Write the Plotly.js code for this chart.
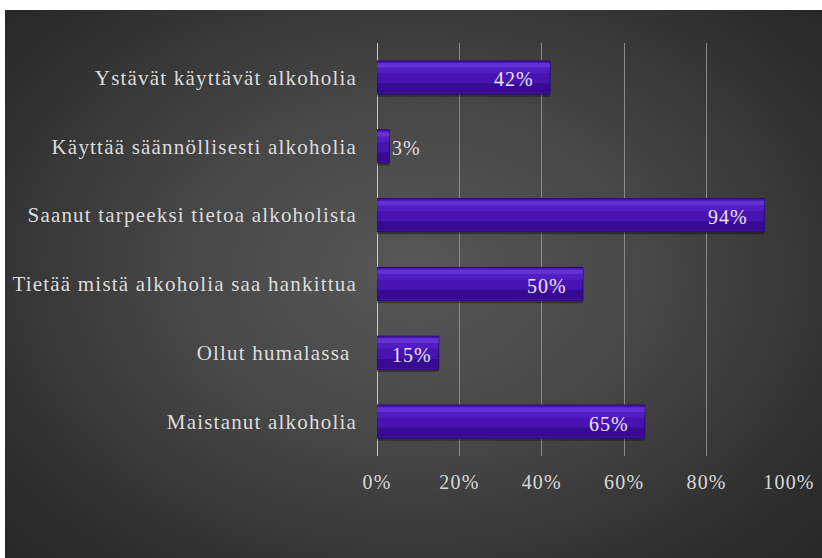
<!DOCTYPE html>
<html>
<head>
<meta charset="utf-8">
<script src="https://cdn.plot.ly/plotly-3.0.1.min.js"></script>
<style>
html,body{margin:0;padding:0;background:#ffffff;}
#bg{position:absolute;left:5px;top:10px;width:817px;height:548px;
background:radial-gradient(ellipse 72% 78% at 50% 48%, #575757 0%, #474747 40%, #2e2e2e 80%, #252525 100%);}
#chart{position:absolute;left:0;top:0;width:822px;height:558px;}
.ytick text{letter-spacing:1.2px;}
.xtick text{letter-spacing:1.2px;}
.annotation-text{letter-spacing:1px;}
</style>
</head>
<body>
<div id="bg"></div>
<div id="chart"></div>
<script>
const categories = [
  "Ystävät käyttävät alkoholia",
  "Käyttää säännöllisesti alkoholia",
  "Saanut tarpeeksi tietoa alkoholista",
  "Tietää mistä alkoholia saa hankittua",
  "Ollut humalassa ",
  "Maistanut alkoholia"
];
const values = [0.42, 0.03, 0.94, 0.50, 0.15, 0.65];
const valueLabels = ["42%", "3%", "94%", "50%", "15%", "65%"];
const tickVals = [0, 0.2, 0.4, 0.6, 0.8, 1.0];
const tickText = ["0%", "20%", "40%", "60%", "80%", "100%"];

const serif = "Liberation Serif, Times New Roman, serif";
const W = 0.48;

function barTrace(color, width, offset, line) {
  return {
    type: "bar", orientation: "h",
    x: values, y: categories,
    width: width, offset: offset,
    marker: {color: color, line: line || {width: 0}},
    hoverinfo: "skip"
  };
}

const traces = [
  barTrace("rgba(0,0,0,0.35)", W, -W/2 + 0.04),
  barTrace("#4713b2", W, -W/2, {color: "#2c0a78", width: 1}),
  barTrace("rgba(40,6,120,0.55)", 0.13, W/2 - 0.15),
  barTrace("rgba(120,70,235,0.6)", 0.07, -W/2 + 0.03),
  barTrace("rgba(95,45,215,0.45)", 0.08, -W/2 + 0.10)
];

const annotations = values.map((v, i) => ({
  x: v, y: categories[i], xref: "x", yref: "y",
  text: valueLabels[i], showarrow: false,
  xanchor: v < 0.1 ? "left" : "right",
  xshift: v < 0.1 ? 1 : (v < 0.2 ? -5 : -14),
  yshift: -2,
  font: {family: serif, size: 20, color: v < 0.1 ? "#dddddd" : "#ece4f6"}
}));

const layout = {
  width: 822, height: 558,
  paper_bgcolor: "rgba(0,0,0,0)",
  plot_bgcolor: "rgba(0,0,0,0)",
  barmode: "overlay",
  showlegend: false,
  margin: {l: 377, r: 33, t: 43, b: 102},
  xaxis: {
    range: [0, 1.0], tickvals: tickVals, ticktext: tickText,
    showgrid: true, gridcolor: "#8a8a8a", gridwidth: 1,
    zeroline: false, showline: false, ticks: "",
    ticklabelstandoff: 12,
    tickfont: {family: serif, size: 20, color: "#d8d8d8"},
    fixedrange: true
  },
  yaxis: {
    autorange: "reversed", type: "category",
    showgrid: false, zeroline: false, showline: false, ticks: "",
    ticklabelstandoff: 19,
    tickfont: {family: serif, size: 21, color: "#dcdcdc"},
    fixedrange: true
  },
  annotations: annotations,
  shapes: [{
    type: "line", xref: "x", yref: "paper",
    x0: 0, x1: 0, y0: 0, y1: 1,
    line: {color: "#c8c8c8", width: 2}, layer: "below"
  }]
};

Plotly.newPlot("chart", traces, layout, {displayModeBar: false, staticPlot: true});
</script>
</body>
</html>
